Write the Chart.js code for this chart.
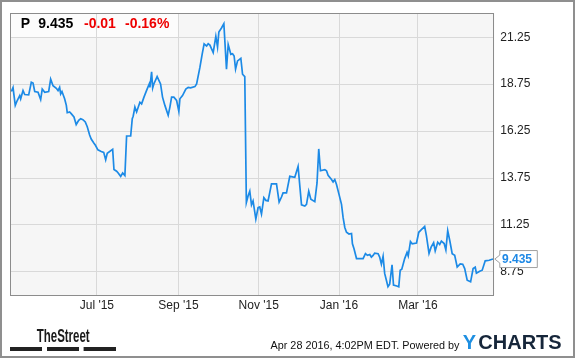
<!DOCTYPE html>
<html><head><meta charset="utf-8">
<script src="https://cdn.jsdelivr.net/npm/chart.js@4/dist/chart.umd.min.js"></script>
<style>html,body{margin:0;padding:0;background:#fff}#wrap{width:575px;height:358px}canvas{display:block}</style>
</head><body><div id="wrap"><canvas id="c" width="575" height="358"></canvas></div>
<script>
const startDate = '2015-04-26';
const endDate = '2016-04-28';
const tickDates = ['2015-07-01','2015-09-01','2015-11-01','2016-01-01','2016-03-01'];
const tickLabels = ["Jul '15","Sep '15","Nov '15","Jan '16","Mar '16"];
const priceTicks = [8.75, 11.25, 13.75, 16.25, 18.75, 21.25];
const ticker = 'P', lastPrice = '9.435', change = '-0.01', changePct = '-0.16%';
const stamp = 'Apr 28 2016, 4:02PM EDT. Powered by';
// days since startDate
const days = [1.0,2.3,4.0,5.5,7.4,8.1,9.9,11.2,14.2,16.2,
17.5,18.8,21.3,23.3,24.5,26.4,29.4,30.9,32.7,35.2,
36.5,37.7,38.5,39.5,41.5,42.8,43.5,45.3,46.5,48.6,
50.3,52.2,53.7,55.4,57.2,58.7,60.5,61.7,63.8,64.8,
66.8,69.3,71.2,72.7,73.9,78.0,79.0,81.0,82.2,84.1,
85.6,87.3,88.6,91.7,92.9,93.6,94.9,96.2,98.7,100.0,
101.8,103.8,105.8,106.3,107.6,108.4,109.3,111.8,114.4,115.9,
117.7,120.2,121.5,122.8,124.5,126.6,128.3,129.1,131.1,133.6,
135.4,137.2,140.5,141.8,144.3,146.0,147.5,149.4,150.6,151.9,
154.4,156.4,157.7,158.7,160.7,162.5,164.5,165.8,167.8,169.1,
170.3,171.4,172.9,175.4,176.7,178.4,179.6,180.9,182.2,183.5,
184.7,186.8,188.5,189.8,191.1,192.9,194.4,196.1,198.7,202.5,
204.5,206.3,207.5,210.1,212.6,216.4,218.9,221.5,224.0,225.3,
227.0,228.6,231.6,233.3,234.6,235.9,239.2,240.5,241.7,244.3,
245.5,246.8,248.1,250.0,251.9,253.1,254.4,255.7,257.6,259.5,
260.2,261.4,263.3,268.3,270.1,271.6,273.4,274.6,275.9,277.1,
279.7,280.9,282.2,283.5,284.7,286.0,287.2,288.5,290.3,291.4,
293.9,295.4,296.5,297.7,299.9,301.7,302.6,304.3,305.6,308.9,
310.6,312.6,315.1,316.4,318.4,320.0,321.9,323.1,325.0,326.5,
327.8,329.9,331.2,332.6,334.3,336.0,337.9,339.8,342.1,344.0,
345.5,347.4,350.0,351.9,353.5,354.4,356.9,358.8,361.1,364.1,
367.0];
const prices = [18.36,18.57,17.62,17.88,18.14,17.97,18.41,18.20,18.18,18.85,
18.81,18.36,18.32,17.93,18.49,18.32,18.36,19.02,18.67,18.53,
18.41,18.58,18.23,18.36,17.97,17.62,17.23,17.27,17.18,17.00,
16.60,16.83,16.91,16.86,16.74,16.48,16.04,15.83,15.60,15.51,
15.25,15.16,15.12,14.72,15.07,15.28,14.20,14.11,14.02,13.84,
14.02,13.88,15.99,15.99,16.91,17.04,17.53,17.27,17.79,17.70,
18.06,18.42,18.76,18.58,19.41,18.55,18.76,19.15,18.76,18.06,
17.62,17.09,17.53,18.06,18.06,17.88,17.30,17.97,18.14,18.49,
18.58,18.55,18.62,18.76,19.64,20.34,20.90,20.78,20.90,20.83,
20.43,21.30,20.73,21.53,21.74,21.97,19.55,20.86,20.34,20.37,
20.25,19.55,19.99,20.13,19.28,19.15,12.44,12.79,13.05,12.32,
12.53,11.56,12.17,12.21,11.83,12.70,12.56,12.53,13.44,13.44,
12.47,12.74,12.96,12.96,13.84,13.79,14.37,12.32,12.26,12.35,
13.05,12.62,12.49,13.49,15.30,14.14,14.20,14.14,13.90,13.67,
13.54,13.67,13.41,12.88,12.35,11.65,11.12,10.86,10.77,10.80,
10.25,9.98,9.46,9.46,9.72,9.63,9.68,9.54,9.63,9.75,
9.72,9.54,9.16,9.58,8.67,8.31,7.96,8.10,9.13,8.05,
8.00,7.96,8.84,8.89,9.46,9.79,9.60,10.37,10.25,10.29,
10.86,11.00,11.17,10.68,9.74,10.07,10.31,9.87,10.33,10.21,
10.39,10.26,9.92,10.95,10.37,9.72,9.63,9.01,9.18,9.16,
8.93,8.31,8.22,8.93,9.00,8.68,8.79,8.84,9.34,9.37,
9.435];

const dayOf = s => (Date.parse(s) - Date.parse(startDate)) / 864e5;
const tickDays = tickDates.map(dayOf);
const points = days.map((d, i) => ({x: d, y: prices[i]}));
const FONT = '"Liberation Sans", Arial, sans-serif';
Chart.defaults.font.family = FONT;

const deco = {
  id: 'deco',
  beforeDraw(chart) {
    const ctx = chart.ctx, a = chart.chartArea;
    ctx.save();
    ctx.fillStyle = '#fff';
    ctx.fillRect(0, 0, chart.width, chart.height);
    ctx.fillStyle = '#f6f6f6';
    ctx.fillRect(a.left, a.top, a.right - a.left, a.bottom - a.top);
    ctx.fillStyle = 'rgba(255,255,255,0.7)';
    ctx.fillRect(a.left, a.top, 168, 24);
    ctx.restore();
  },
  afterDraw(chart) {
    const ctx = chart.ctx, a = chart.chartArea;
    const ys = chart.scales.y;
    ctx.save();
    // plot border
    ctx.strokeStyle = '#8c8c8c';
    ctx.lineWidth = 1;
    ctx.strokeRect(Math.round(a.left) + 0.5, Math.round(a.top) + 0.5, Math.round(a.right - a.left) - 1, Math.round(a.bottom - a.top));
    // header
    ctx.font = 'bold 14px ' + FONT;
    ctx.textBaseline = 'alphabetic';
    ctx.textAlign = 'left';
    ctx.fillStyle = '#000';
    ctx.fillText(ticker, a.left + 10.7, 28.3);
    ctx.fillText(lastPrice, a.left + 28.3, 28.3);
    ctx.fillStyle = '#ee0000';
    ctx.fillText(change, a.left + 74, 28.3);
    ctx.fillText(changePct, a.left + 115, 28.3);
    // last value flag
    const yl = ys.getPixelForValue(prices[prices.length - 1]);
    const bx = a.right + 5, bw = 37.5, bh = 17;
    ctx.beginPath();
    ctx.moveTo(a.right + 0.5, yl);
    ctx.lineTo(bx + 0.5, yl - 4);
    ctx.lineTo(bx + 0.5, yl - bh / 2);
    ctx.lineTo(bx + bw + 0.5, yl - bh / 2);
    ctx.lineTo(bx + bw + 0.5, yl + bh / 2);
    ctx.lineTo(bx + 0.5, yl + bh / 2);
    ctx.lineTo(bx + 0.5, yl + 4);
    ctx.closePath();
    ctx.fillStyle = '#fff';
    ctx.fill();
    ctx.strokeStyle = '#a0a0a0';
    ctx.stroke();
    ctx.font = 'bold 12px ' + FONT;
    ctx.fillStyle = '#1e88e5';
    ctx.fillText(lastPrice, bx + 2.7, yl + 4.3);
    // footer: TheStreet
    ctx.fillStyle = '#1a1a1a';
    ctx.font = 'bold 18px ' + FONT;
    ctx.fillText('TheStreet', 36.7, 342, 53);
    ctx.fillStyle = '#222';
    ctx.fillRect(10, 347, 32, 4);
    ctx.fillRect(47, 347, 32, 4);
    ctx.fillRect(83.6, 347, 32.4, 4);
    // stamp
    ctx.font = '11px ' + FONT;
    ctx.fillStyle = '#111';
    ctx.textAlign = 'right';
    ctx.fillText(stamp, 459.5, 348.5, 189);
    ctx.textAlign = 'left';
    // YCHARTS
    ctx.font = 'bold 20px ' + FONT;
    ctx.fillStyle = '#1e8fe1';
    ctx.fillText('Y', 462.8, 349);
    ctx.fillStyle = '#16263a';
    ctx.fillText('CHARTS', 478.3, 349);
    // outer frame
    ctx.strokeStyle = '#8f8f8f';
    ctx.lineWidth = 2;
    ctx.strokeRect(1, 1, chart.width - 2, chart.height - 2);
    ctx.restore();
  }
};

new Chart(document.getElementById('c'), {
  type: 'line',
  data: { datasets: [{ data: points, borderColor: '#1c8ae6', borderWidth: 1.7, pointRadius: 0, tension: 0, fill: false }] },
  options: {
    responsive: false, animation: false, devicePixelRatio: 1,
    layout: { padding: { left: 10, top: 10, right: 0, bottom: 0 } },
    plugins: { legend: { display: false }, tooltip: { enabled: false } },
    scales: {
      x: {
        type: 'linear', min: 0, max: dayOf(endDate),
        afterBuildTicks: s => { s.ticks = tickDays.map(v => ({ value: v })); },
        afterFit: s => { s.height = 63; },
        grid: { color: '#d9d9d9', drawTicks: false },
        border: { display: false },
        ticks: { autoSkip: false, maxRotation: 0, padding: 3, color: '#222', font: { size: 12 },
          callback: v => { const i = tickDays.indexOf(v); return i >= 0 ? tickLabels[i] : ''; } }
      },
      y: {
        position: 'right', min: 7.52, max: 22.53,
        afterBuildTicks: s => { s.ticks = priceTicks.map(v => ({ value: v })); },
        afterFit: s => { s.width = 80.7; },
        grid: { color: '#d9d9d9', drawTicks: false },
        border: { display: false },
        ticks: { padding: 6, color: '#222', font: { size: 12 }, callback: v => Number(v).toFixed(2) }
      }
    }
  },
  plugins: [deco]
});
</script></body></html>
